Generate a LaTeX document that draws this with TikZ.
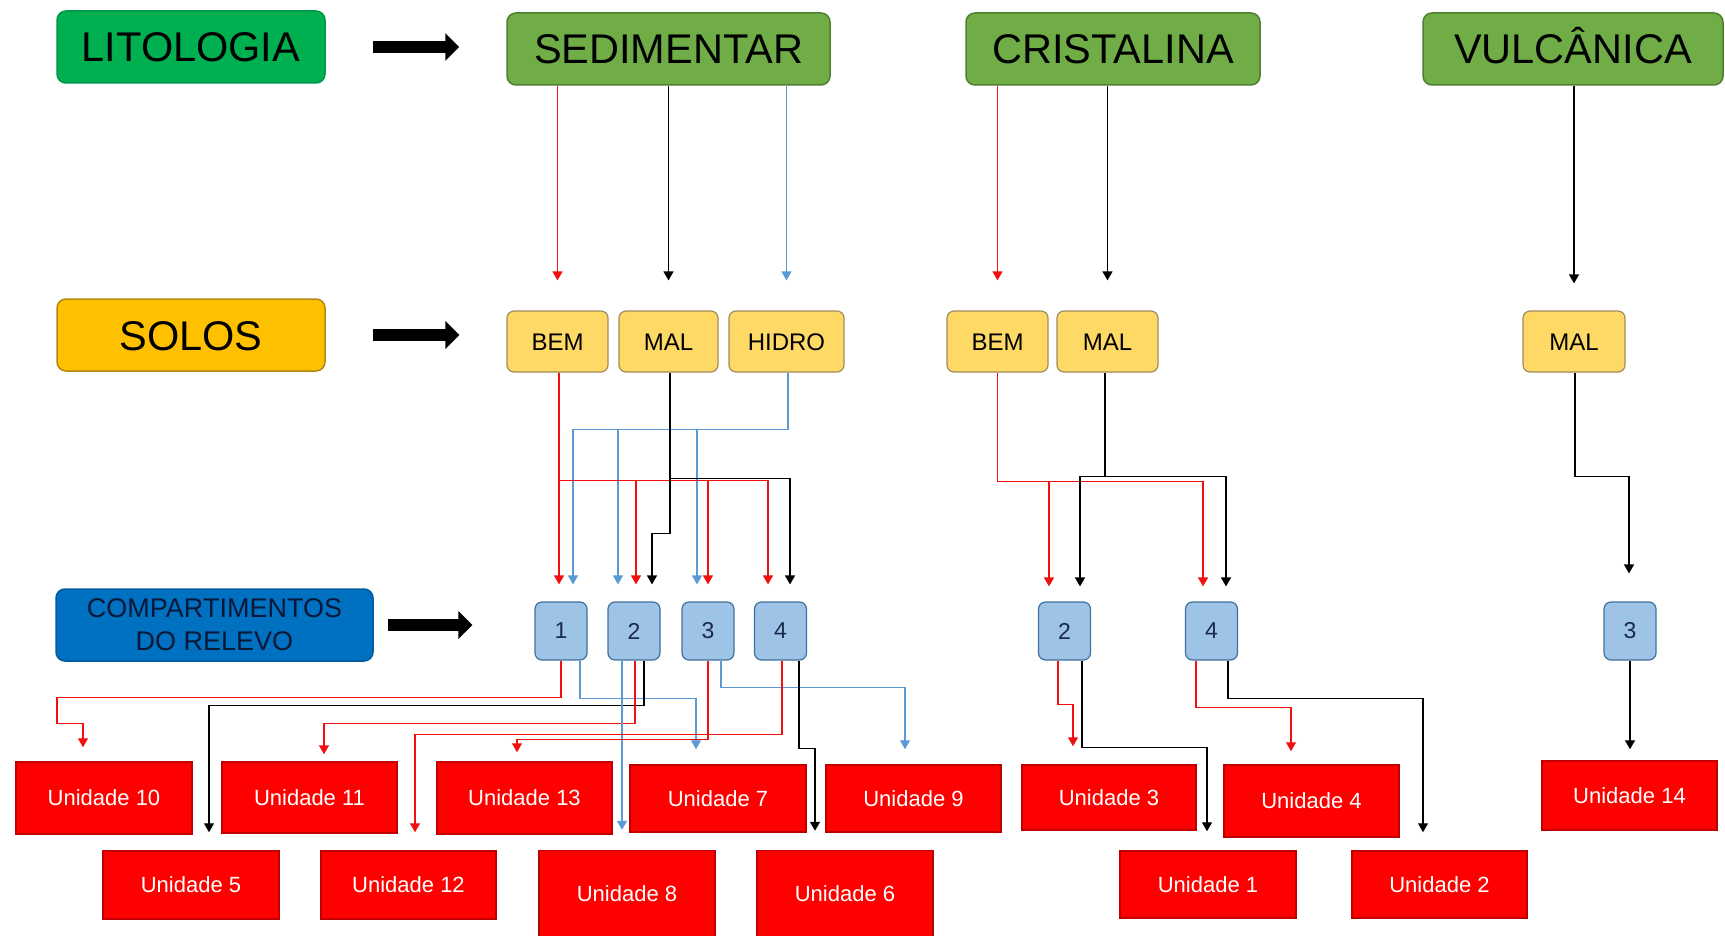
\documentclass[tikz,border=0pt]{standalone}
\usepackage{fontspec}
\setmainfont{Liberation Sans}
\usetikzlibrary{arrows.meta}

\definecolor{litofill}{HTML}{00B050}
\definecolor{litodraw}{HTML}{00964A}
\definecolor{rochafill}{HTML}{70AD47}
\definecolor{rochadraw}{HTML}{507E32}
\definecolor{solofill}{HTML}{FFC000}
\definecolor{solodraw}{HTML}{B08A10}
\definecolor{tipofill}{HTML}{FFD966}
\definecolor{tipodraw}{HTML}{A08C5C}
\definecolor{relfill}{HTML}{0070C0}
\definecolor{reldraw}{HTML}{005A9E}
\definecolor{reltext}{HTML}{0B1838}
\definecolor{numfill}{HTML}{9DC3E6}
\definecolor{numdraw}{HTML}{41719C}
\definecolor{numtext}{HTML}{1A2A4A}
\definecolor{unifill}{HTML}{FF0000}
\definecolor{unidraw}{HTML}{C00000}
\definecolor{lred}{HTML}{F01010}
\definecolor{lblue}{HTML}{5B9BD5}

\begin{document}
\begin{tikzpicture}[x=1pt,y=-1pt,
  grande/.style={rounded corners=9pt, line width=1.5pt, minimum height=72pt, inner sep=0pt,
    text height=30pt, text depth=0pt, font=\fontsize{41.5}{48}\selectfont},
  rocha/.style={grande, fill=rochafill, draw=rochadraw},
  tipo/.style={rounded corners=7pt, fill=tipofill, draw=tipodraw, line width=1.2pt,
    minimum width=101pt, minimum height=61pt, inner sep=0pt, text height=17pt, text depth=0pt,
    font=\fontsize{24}{28}\selectfont},
  num/.style={rounded corners=7pt, fill=numfill, draw=numdraw, line width=1.2pt, text=numtext,
    minimum width=52pt, minimum height=58pt, inner sep=0pt, font=\fontsize{23}{26}\selectfont},
  unidade/.style={fill=unifill, draw=unidraw, line width=1.5pt, text=white,
    minimum width=175pt, minimum height=67pt, inner sep=0pt, font=\fontsize{22}{26}\selectfont},
  seta/.style={line width=1.4pt, -{Triangle[width=10pt,length=9pt]}},
  grossa/.style={line width=12pt, -{Triangle[width=27pt,length=14pt]}}]
  \useasboundingbox (0,0) rectangle (1725,936);

  \node[grande, fill=litofill, draw=litodraw, minimum width=268pt] (lito) at (191,47) {LITOLOGIA};
  \node[rocha, minimum width=323pt] (sed) at (668.5,49) {SEDIMENTAR};
  \node[rocha, minimum width=294pt] (cri) at (1113,49) {CRISTALINA};
  \node[rocha, minimum width=300pt] (vul) at (1573,49) {VULCÂNICA};

  \node[grande, fill=solofill, draw=solodraw, minimum width=268pt] (solos) at (191,335) {SOLOS};
  \node[tipo] (sbem) at (557.5,341.5) {BEM};
  \node[tipo, minimum width=99pt] (smal) at (668.5,341.5) {MAL};
  \node[tipo, minimum width=115pt] (shidro) at (786.5,341.5) {HIDRO};
  \node[tipo] (cbem) at (997.5,341.5) {BEM};
  \node[tipo] (cmal) at (1107.5,341.5) {MAL};
  \node[tipo, minimum width=102pt] (vmal) at (1574,341.5) {MAL};

  \node[rounded corners=9pt, fill=relfill, draw=reldraw, line width=1.5pt, text=reltext,
    minimum width=317pt, minimum height=72pt, inner sep=0pt, align=center,
    font=\fontsize{27}{33}\selectfont] (cmp) at (214.5,625) {COMPARTIMENTOS\\DO RELEVO};
  \node[num] (s1) at (561,631) {1};
  \node[num] (s2) at (634,631) {2};
  \node[num] (s3) at (708,631) {3};
  \node[num] (s4) at (780.5,631) {4};
  \node[num] (c2) at (1064.5,631) {2};
  \node[num] (c4) at (1211.5,631) {4};
  \node[num] (v3) at (1630,631) {3};

  \node[unidade, minimum width=176pt, minimum height=72pt] (u10) at (104,798) {Unidade 10};
  \node[unidade, minimum height=71pt] (u11) at (309.5,797.5) {Unidade 11};
  \node[unidade, minimum height=72pt] (u13) at (524.5,798) {Unidade 13};
  \node[unidade, minimum width=176pt] (u7) at (718,798.5) {Unidade 7};
  \node[unidade] (u9) at (913.5,798.5) {Unidade 9};
  \node[unidade, minimum width=174pt, minimum height=65pt] (u3) at (1109,797.5) {Unidade 3};
  \node[unidade, minimum height=72pt] (u4) at (1311.5,801) {Unidade 4};
  \node[unidade, minimum height=69pt] (u14) at (1629.5,795.5) {Unidade 14};
  \node[unidade, minimum width=176pt, minimum height=68pt] (u5) at (191,885) {Unidade 5};
  \node[unidade, minimum height=68pt] (u12) at (408.5,885) {Unidade 12};
  \node[unidade, minimum width=176pt, minimum height=86pt] (u8) at (627,893.5) {Unidade 8};
  \node[unidade, minimum width=176pt, minimum height=86pt] (u6) at (845,893.5) {Unidade 6};
  \node[unidade, minimum width=176pt] (u1) at (1208,884.5) {Unidade 1};
  \node[unidade] (u2) at (1439.5,884.5) {Unidade 2};

  \draw[grossa, shorten <=47pt, shorten >=47pt] (lito.east) -- (lito.east -| sed.west);
  \draw[grossa, shorten <=47pt, shorten >=47pt] (solos.east) -- (solos.east -| sbem.west);
  \draw[grossa, shorten <=14pt, shorten >=62pt] (cmp.east) -- (cmp.east -| s1.west);

  \draw[seta, lred, shorten >=30pt] (sed.south -| sbem.north) -- (sbem.north);
  \draw[seta, shorten >=30pt] (sed.south -| smal.north) -- (smal.north);
  \draw[seta, lblue, shorten >=30pt] (sed.south -| shidro.north) -- (shidro.north);
  \draw[seta, lred, shorten >=30pt] (cri.south -| cbem.north) -- (cbem.north);
  \draw[seta, shorten >=30pt] (cri.south -| cmal.north) -- (cmal.north);
  \draw[seta, shorten >=27pt] (vul.south -| vmal.north) -- (vmal.north);

  \draw[seta, lblue, shorten >=17pt] ([xshift=1.5pt]shidro.south) -- ++(0,57) -| ([xshift=12pt]s1.north);
  \draw[seta, lblue, shorten >=17pt] ([xshift=1.5pt]shidro.south) -- ++(0,57) -| ([xshift=-16pt]s2.north);
  \draw[seta, lblue, shorten >=17pt] ([xshift=1.5pt]shidro.south) -- ++(0,57) -| ([xshift=-11pt]s3.north);
  \draw[seta, lred, shorten >=17pt] ([xshift=1.5pt]sbem.south) -- ([xshift=-2pt]s1.north);
  \draw[seta, lred, shorten >=17pt] ([xshift=1.5pt]sbem.south) -- ++(0,108) -| ([xshift=2pt]s2.north);
  \draw[seta, lred, shorten >=17pt] ([xshift=1.5pt]sbem.south) -- ++(0,108) -| (s3.north);
  \draw[seta, lred, shorten >=17pt] ([xshift=1.5pt]sbem.south) -- ++(0,108) -| ([xshift=-12.5pt]s4.north);
  \draw[seta, shorten >=17pt] ([xshift=1.5pt]smal.south) -- ++(0,161) -| ([xshift=18pt]s2.north);
  \draw[seta, shorten >=17pt] ([xshift=1.5pt]smal.south) -- ++(0,106) -| ([xshift=9.5pt]s4.north);

  \draw[seta, lred, shorten >=15pt] (cbem.south) -- ++(0,109) -| ([xshift=-15.5pt]c2.north);
  \draw[seta, lred, shorten >=15pt] (cbem.south) -- ++(0,109) -| ([xshift=-8.5pt]c4.north);
  \draw[seta, shorten >=15pt] ([xshift=-2.5pt]cmal.south) -- ++(0,104) -| ([xshift=15.5pt]c2.north);
  \draw[seta, shorten >=15pt] ([xshift=-2.5pt]cmal.south) -- ++(0,104) -| ([xshift=14.5pt]c4.north);
  \draw[seta, shorten >=28pt] ([xshift=1pt]vmal.south) -- ++(0,104) -| ([xshift=-1pt]v3.north);

  \draw[seta, lred, shorten >=14pt] (s1.south) -- ++(0,37) -| ++(-504,26) -| ([xshift=-21pt]u10.north);
  \draw[seta, lblue, shorten >=15pt] ([xshift=19pt]s1.south) -- ++(0,38) -| ([xshift=-22pt]u7.north);
  \draw[seta, shorten >=18pt] ([xshift=10pt]s2.south) -- ++(0,45) -| ([xshift=18pt]u5.north);
  \draw[seta, lred, shorten >=7pt] ([xshift=1pt]s2.south) -- ++(0,63) -| ([xshift=14.5pt]u11.north);
  \draw[seta, lblue, shorten >=20pt] ([xshift=-12pt]s2.south) -- ([xshift=-5pt]u8.north);
  \draw[seta, lred, shorten >=9pt] (s3.south) -- ++(0,79) -| ([xshift=-7.5pt]u13.north);
  \draw[seta, lblue, shorten >=15pt] ([xshift=13pt]s3.south) -- ++(0,27) -| ([xshift=-8.5pt]u9.north);
  \draw[seta, lred, shorten >=18pt] ([xshift=1.5pt]s4.south) -- ++(0,74) -| ([xshift=6.5pt]u12.north);
  \draw[seta, shorten >=19pt] ([xshift=18.5pt]s4.south) -- ++(0,88) -| ([xshift=-30pt]u6.north);

  \draw[seta, lred, shorten >=18pt] ([xshift=-6.5pt]c2.south) -- ++(0,44) -| ([xshift=-36pt]u3.north);
  \draw[seta, shorten >=19pt] ([xshift=17.5pt]c2.south) -- ++(0,87) -| ([xshift=-1pt]u1.north);
  \draw[seta, lred, shorten >=13pt] ([xshift=-15.5pt]c4.south) -- ++(0,47) -| ([xshift=-20.5pt]u4.north);
  \draw[seta, shorten >=18pt] ([xshift=16.5pt]c4.south) -- ++(0,38) -| ([xshift=-16.5pt]u2.north);
  \draw[seta, shorten >=11pt] (v3.south) -- (v3.south |- u14.north);
\end{tikzpicture}
\end{document}
